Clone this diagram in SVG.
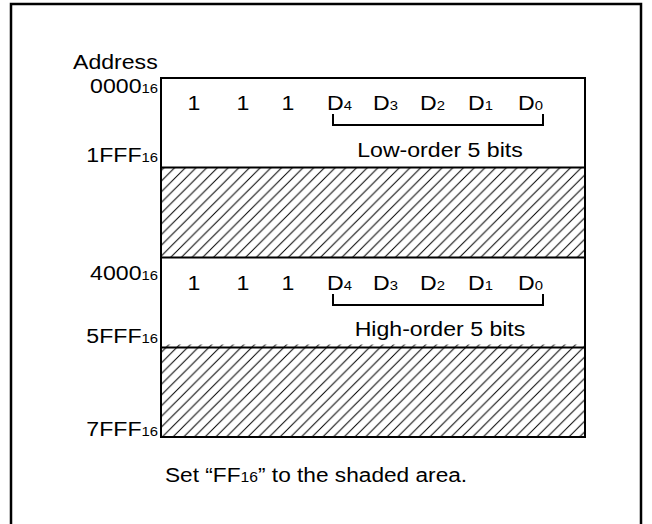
<svg xmlns="http://www.w3.org/2000/svg" width="652" height="524" viewBox="0 0 652 524">
<style>
text{font-family:"Liberation Sans",Arial,sans-serif;font-size:21px;fill:#000}
.s{font-size:13.5px}
.ln{fill:none;stroke:#000;stroke-width:2}
.br{fill:none;stroke:#000;stroke-width:2}
</style>
<defs>
<pattern id="h" patternUnits="userSpaceOnUse" width="10.7" height="10.7">
<path d="M0,10.7 L10.7,0 M-2,2 L2,-2 M8.7,12.7 L12.7,8.7" stroke="#000" stroke-width="1"/>
</pattern>
</defs>
<rect x="0" y="0" width="652" height="524" fill="#fff"/>
<path d="M11,530 V4 H641 V530" fill="none" stroke="#000" stroke-width="2.5"/>
<g id="labels">
<text transform="translate(73 69) scale(1.1 1)">Address</text>
<text text-anchor="end" transform="translate(158 93) scale(1.1 1)">0000<tspan class="s">16</tspan></text>
<text text-anchor="end" transform="translate(158 162) scale(1.1 1)">1FFF<tspan class="s">16</tspan></text>
<text text-anchor="end" transform="translate(158 280) scale(1.1 1)">4000<tspan class="s">16</tspan></text>
<text text-anchor="end" transform="translate(158 343) scale(1.1 1)">5FFF<tspan class="s">16</tspan></text>
<text text-anchor="end" transform="translate(158 436) scale(1.1 1)">7FFF<tspan class="s">16</tspan></text>
</g>
<g id="row-low">
<rect x="161" y="78" width="424" height="89.5" fill="#fff"/>
<text text-anchor="middle" transform="translate(194 110) scale(1.1 1)">1</text>
<text text-anchor="middle" transform="translate(243 110) scale(1.1 1)">1</text>
<text text-anchor="middle" transform="translate(288 110) scale(1.1 1)">1</text>
<text transform="translate(327 110) scale(1.1 1)">D<tspan class="s">4</tspan></text>
<text transform="translate(373 110) scale(1.1 1)">D<tspan class="s">3</tspan></text>
<text transform="translate(420 110) scale(1.1 1)">D<tspan class="s">2</tspan></text>
<text transform="translate(468 110) scale(1.1 1)">D<tspan class="s">1</tspan></text>
<text transform="translate(518 110) scale(1.1 1)">D<tspan class="s">0</tspan></text>
<path class="br" d="M333,114 V125 H543 V114"/>
<text text-anchor="middle" transform="translate(440 157) scale(1.1 1)">Low-order 5 bits</text>
</g>
<g id="shade-1">
<rect x="161" y="167.5" width="424" height="90" fill="url(#h)"/>
</g>
<g id="row-high">
<rect x="161" y="257.5" width="424" height="90" fill="#fff"/>
<text text-anchor="middle" transform="translate(194 290) scale(1.1 1)">1</text>
<text text-anchor="middle" transform="translate(243 290) scale(1.1 1)">1</text>
<text text-anchor="middle" transform="translate(288 290) scale(1.1 1)">1</text>
<text transform="translate(327 290) scale(1.1 1)">D<tspan class="s">4</tspan></text>
<text transform="translate(373 290) scale(1.1 1)">D<tspan class="s">3</tspan></text>
<text transform="translate(420 290) scale(1.1 1)">D<tspan class="s">2</tspan></text>
<text transform="translate(468 290) scale(1.1 1)">D<tspan class="s">1</tspan></text>
<text transform="translate(518 290) scale(1.1 1)">D<tspan class="s">0</tspan></text>
<path class="br" d="M333,294 V305 H543 V294"/>
<text text-anchor="middle" transform="translate(440 336) scale(1.1 1)">High-order 5 bits</text>
</g>
<g id="shade-2">
<rect x="161" y="344.5" width="424" height="92.5" fill="url(#h)"/>
</g>
<g id="box-lines">
<rect class="ln" x="161" y="78" width="424" height="359"/>
<path class="ln" d="M161,167.5 H585 M161,257.5 H585 M161,347.5 H585"/>
</g>
<g id="note">
<text transform="translate(165 482) scale(1.08 1)">Set “FF<tspan style="font-size:14.5px">16</tspan>” to the shaded area.</text>
</g>
</svg>
